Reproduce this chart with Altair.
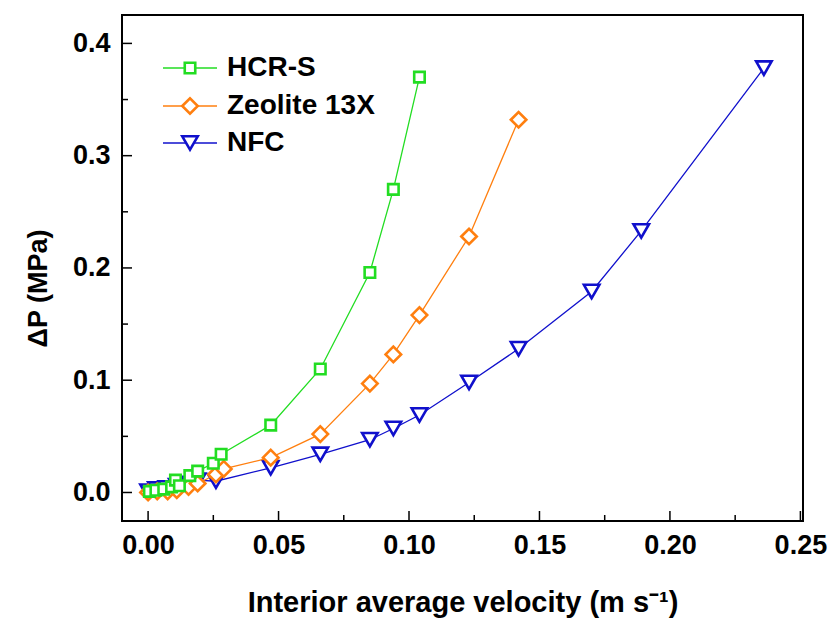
import altair as alt
import pandas as pd

# ---- data ----
series_names = ["HCR-S", "Zeolite 13X", "NFC"]
series_colors = ["#22DD22", "#FF7F0F", "#1010CC"]
series_shapes = ["square", "diamond", "triangle-down"]

hcr_x = [0.0005, 0.003, 0.006, 0.009, 0.0105, 0.012, 0.016, 0.019, 0.025, 0.028, 0.047, 0.066, 0.085, 0.094, 0.104]
hcr_y = [0.001, 0.002, 0.003, 0.005, 0.011, 0.006, 0.015, 0.019, 0.026, 0.034, 0.060, 0.110, 0.196, 0.270, 0.370]

zeo_x = [0.0, 0.0035, 0.0075, 0.011, 0.0155, 0.019, 0.026, 0.029, 0.047, 0.066, 0.085, 0.094, 0.104, 0.123, 0.142]
zeo_y = [0.000, 0.001, 0.001, 0.002, 0.005, 0.008, 0.016, 0.021, 0.031, 0.052, 0.097, 0.123, 0.158, 0.228, 0.332]

nfc_x = [0.0, 0.003, 0.007, 0.011, 0.016, 0.019, 0.026, 0.047, 0.066, 0.085, 0.094, 0.104, 0.123, 0.142, 0.170, 0.189, 0.236]
nfc_y = [0.001, 0.003, 0.004, 0.006, 0.008, 0.011, 0.010, 0.022, 0.034, 0.047, 0.057, 0.069, 0.098, 0.128, 0.179, 0.233, 0.378]

x_major = [0.0, 0.05, 0.10, 0.15, 0.20, 0.25]
x_minor = [0.025, 0.075, 0.125, 0.175, 0.225]
y_major = [0.0, 0.1, 0.2, 0.3, 0.4]
y_minor = [0.05, 0.15, 0.25, 0.35]

x_title = "Interior average velocity (m s\u207B\u00B9)"
y_title = "\u0394P (MPa)"

# ---- layout ----
W, H = 681, 506
FONT = "Liberation Sans"

xs = alt.Scale(domain=[-0.01, 0.251], nice=False, zero=False)
ys = alt.Scale(domain=[-0.0254, 0.4253], nice=False, zero=False)

x_axis = alt.Axis(values=x_major, format=".2f", title=x_title, domain=False, ticks=False,
                  grid=False, labelFont=FONT, labelFontWeight="bold", labelFontSize=27,
                  labelColor="black", labelPadding=11, titleFont=FONT, titleFontWeight="bold",
                  titleFontSize=29, titleColor="black", titleY=67)
y_axis = alt.Axis(values=y_major, format=".1f", title=y_title, domain=False, ticks=False,
                  grid=False, labelFont=FONT, labelFontWeight="bold", labelFontSize=27,
                  labelColor="black", labelPadding=12, titleFont=FONT, titleFontWeight="bold",
                  titleFontSize=27, titleColor="black", titleX=-70, titleY=273)

data = {
    "HCR-S": (hcr_x, hcr_y),
    "Zeolite 13X": (zeo_x, zeo_y),
    "NFC": (nfc_x, nfc_y),
}
sizes = {"square": 110, "diamond": 240, "triangle-down": 240}

layers = []

# ticks (inward)
layers.append(alt.Chart(pd.DataFrame({"v": x_major})).mark_rule(color="black", strokeWidth=1.5).encode(
    x=alt.X("v:Q", scale=xs, axis=x_axis), y=alt.value(H), y2=alt.value(H - 10)))
layers.append(alt.Chart(pd.DataFrame({"v": x_minor})).mark_rule(color="black", strokeWidth=1.5).encode(
    x=alt.X("v:Q", scale=xs, axis=x_axis), y=alt.value(H), y2=alt.value(H - 6)))
layers.append(alt.Chart(pd.DataFrame({"v": y_major})).mark_rule(color="black", strokeWidth=1.5).encode(
    y=alt.Y("v:Q", scale=ys, axis=y_axis), x=alt.value(0), x2=alt.value(10)))
layers.append(alt.Chart(pd.DataFrame({"v": y_minor})).mark_rule(color="black", strokeWidth=1.5).encode(
    y=alt.Y("v:Q", scale=ys, axis=y_axis), x=alt.value(0), x2=alt.value(6)))

# series: draw NFC first, HCR-S last (on top)
for name in ["NFC", "Zeolite 13X", "HCR-S"]:
    k = series_names.index(name)
    col, shp = series_colors[k], series_shapes[k]
    xv, yv = data[name]
    d = pd.DataFrame({"x": xv, "y": yv, "i": list(range(len(xv)))})
    base = alt.Chart(d)
    layers.append(base.mark_line(color=col, strokeWidth=1.3).encode(
        x=alt.X("x:Q", scale=xs, axis=x_axis), y=alt.Y("y:Q", scale=ys, axis=y_axis), order="i:Q"))
    layers.append(base.mark_point(shape=shp, stroke=col, fill="white", fillOpacity=1, opacity=1,
                                  strokeWidth=2.6, size=sizes[shp]).encode(
        x=alt.X("x:Q", scale=xs, axis=x_axis), y=alt.Y("y:Q", scale=ys, axis=y_axis)))

# legend (inside, top-left)
leg_y = [53, 91, 128]
for k, name in enumerate(series_names):
    col, shp = series_colors[k], series_shapes[k]
    ld = pd.DataFrame({"label": [name]})
    lb = alt.Chart(ld)
    layers.append(lb.mark_rule(color=col, strokeWidth=1.3).encode(
        x=alt.value(41), x2=alt.value(95), y=alt.value(leg_y[k])))
    layers.append(lb.mark_point(shape=shp, stroke=col, fill="white", fillOpacity=1, opacity=1,
                                strokeWidth=2.6, size=sizes[shp]).encode(
        x=alt.value(68), y=alt.value(leg_y[k])))
    layers.append(lb.mark_text(align="left", baseline="middle", font=FONT, fontWeight="bold",
                               fontSize=28, color="black").encode(
        x=alt.value(105), y=alt.value(leg_y[k]), text="label:N"))

chart = alt.layer(*layers).properties(
    width=W, height=H,
    autosize=alt.AutoSizeParams(type="none"),
    padding={"left": 122, "top": 15, "right": 33, "bottom": 100},
    background="white",
).configure_view(stroke="black", strokeWidth=2)

chart.save("out.html", embed_options={"renderer": "svg", "actions": False})
